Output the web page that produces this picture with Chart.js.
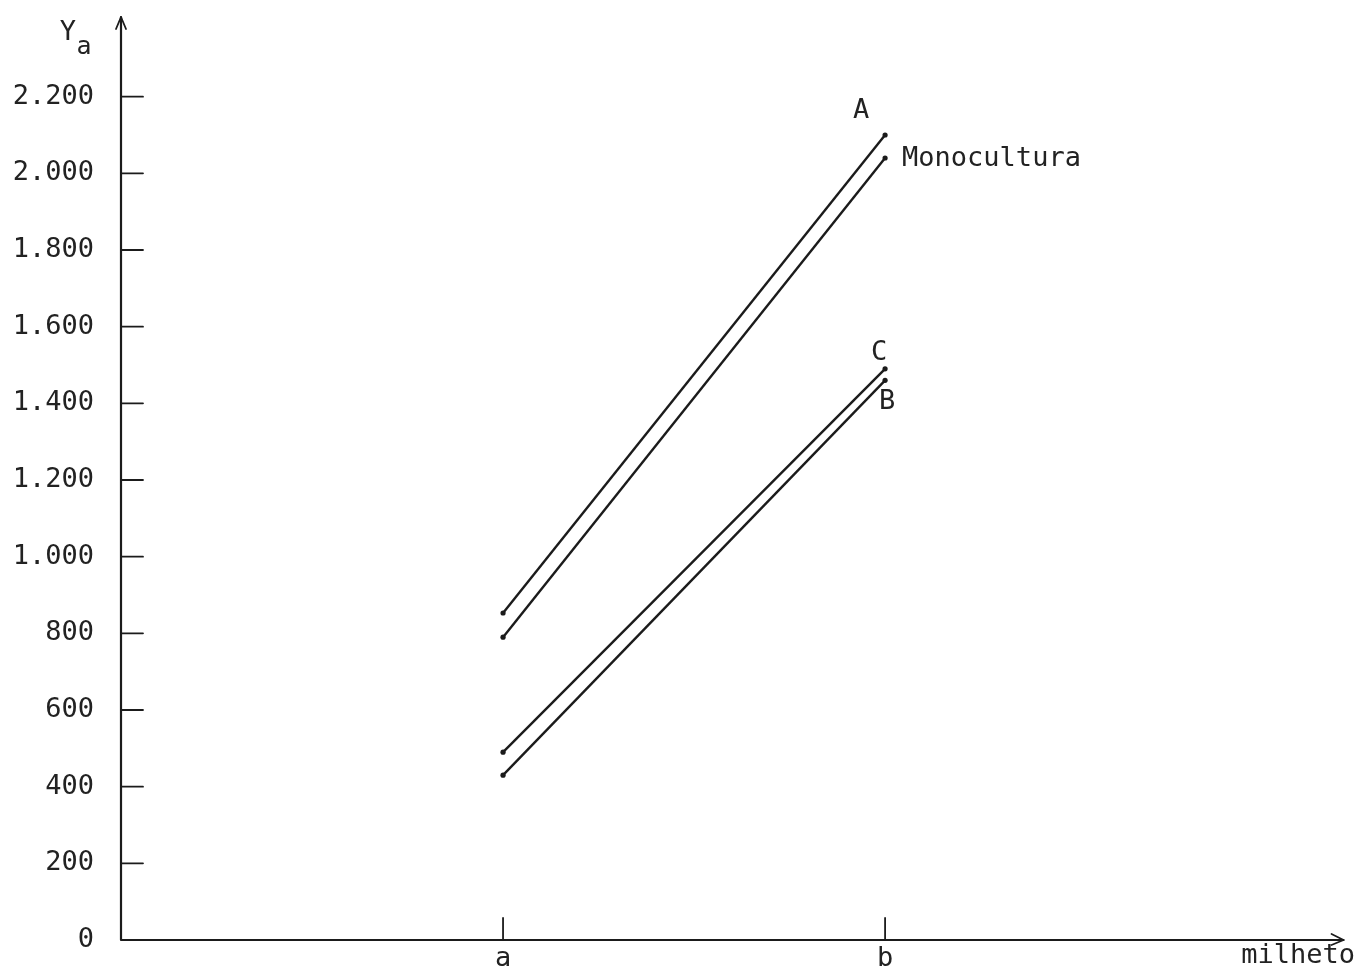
<!DOCTYPE html>
<html>
<head>
<meta charset="utf-8">
<title>Ya x milheto</title>
<script src="https://cdn.jsdelivr.net/npm/chart.js@4/dist/chart.umd.min.js"></script>
<style>
  html, body { margin: 0; padding: 0; background: #fff; }
  #wrap { width: 1360px; height: 969px; }
</style>
</head>
<body>
<div id="wrap"><canvas id="chart" width="1360" height="969"></canvas></div>
<script>
// x positions of the two milheto levels
const xPositions = [1, 2];
const xLabels = ['a', 'b'];
const xTitle = 'milheto';

// y axis ticks and how they are printed
const yTicks = [0, 200, 400, 600, 800, 1000, 1200, 1400, 1600, 1800, 2000, 2200];
const yTickLabels = ['0', '200', '400', '600', '800', '1.000', '1.200', '1.400', '1.600', '1.800', '2.000', '2.200'];

// series (value at a, value at b)
const seriesNames = ['A', 'Monocultura', 'C', 'B'];
const seriesA = [853, 2100];
const seriesMono = [790, 2040];
const seriesC = [490, 1490];
const seriesB = [430, 1460];

const INK = '#1b1b1b';
const FONT = '"DejaVu Sans Mono", "Liberation Mono", monospace';

// where each series name sits relative to its end point (b)
const labelOffsets = {
  'A': { dx: -24, dy: -24, align: 'center' },
  'Monocultura': { dx: 17, dy: 1, align: 'left' },
  'C': { dx: -6, dy: -16, align: 'center' },
  'B': { dx: 2, dy: 22, align: 'center' }
};

function toPoints(values) {
  return values.map((v, i) => ({ x: xPositions[i], y: v }));
}

// Draws the hand-made looking axes, arrows, inner tick marks and the text labels
const sketchAxes = {
  id: 'sketchAxes',
  afterDraw(chart) {
    const ctx = chart.ctx;
    const xs = chart.scales.x;
    const ys = chart.scales.y;
    const x0 = xs.getPixelForValue(0);
    const y0 = ys.getPixelForValue(0);
    const yTop = chart.chartArea.top - 3;
    const xEnd = xs.getPixelForValue(3.2);

    ctx.save();
    ctx.strokeStyle = INK;
    ctx.lineWidth = 2.2;
    ctx.lineCap = 'round';
    ctx.lineJoin = 'round';

    // axes
    ctx.beginPath();
    ctx.moveTo(x0, y0);
    ctx.lineTo(x0, yTop);
    ctx.moveTo(x0, y0);
    ctx.lineTo(xEnd, y0);
    ctx.stroke();

    // arrow heads
    ctx.lineWidth = 1.8;
    ctx.beginPath();
    ctx.moveTo(x0 - 5, yTop + 12);
    ctx.lineTo(x0, yTop);
    ctx.lineTo(x0 + 5, yTop + 12);
    ctx.moveTo(xEnd - 12, y0 - 6);
    ctx.lineTo(xEnd, y0);
    ctx.lineTo(xEnd - 12, y0 + 5);
    ctx.stroke();

    // tick marks pointing into the plot
    ctx.lineWidth = 1.8;
    ctx.beginPath();
    yTicks.forEach(v => {
      if (v === 0) return;
      const py = ys.getPixelForValue(v);
      ctx.moveTo(x0, py);
      ctx.lineTo(x0 + 22, py);
    });
    xPositions.forEach(v => {
      const px = xs.getPixelForValue(v);
      ctx.moveTo(px, y0);
      ctx.lineTo(px, y0 - 22);
    });
    ctx.stroke();

    // Y axis title with subscript
    ctx.fillStyle = '#222';
    ctx.textBaseline = 'middle';
    ctx.textAlign = 'center';
    ctx.font = '27px ' + FONT;
    ctx.fillText('Y', 68, 33);
    ctx.font = '25px ' + FONT;
    ctx.fillText('a', 84, 47);

    // series names at the b end of each line
    ctx.font = '27px ' + FONT;
    chart.data.datasets.forEach((ds, i) => {
      const meta = chart.getDatasetMeta(i);
      const pt = meta.data[meta.data.length - 1];
      const off = labelOffsets[ds.label];
      ctx.textAlign = off.align;
      ctx.fillText(ds.label, pt.x + off.dx, pt.y + off.dy);
    });
    ctx.restore();
  }
};

const seriesValues = [seriesA, seriesMono, seriesC, seriesB];

new Chart(document.getElementById('chart'), {
  type: 'line',
  data: {
    datasets: seriesNames.map((name, i) => ({
      label: name,
      data: toPoints(seriesValues[i]),
      borderColor: INK,
      backgroundColor: INK,
      borderWidth: 2.4,
      pointRadius: 2.6,
      pointBorderWidth: 0,
      pointBackgroundColor: INK,
      fill: false,
      tension: 0
    }))
  },
  options: {
    responsive: false,
    animation: false,
    devicePixelRatio: 1,
    layout: { padding: { top: 20, right: 5, left: 0, bottom: 0 } },
    plugins: {
      legend: { display: false },
      tooltip: { enabled: false }
    },
    scales: {
      x: {
        type: 'linear',
        min: 0,
        max: 3.23,
        grid: { display: false, drawTicks: false },
        border: { display: false },
        afterBuildTicks: s => { s.ticks = xPositions.map(v => ({ value: v })); },
        afterFit: s => {
          s.height = 29;
          s.paddingLeft = 0;
          s.paddingRight = 0;
        },
        ticks: {
          autoSkip: false,
          maxRotation: 0,
          padding: 3,
          color: '#222',
          font: { family: FONT, size: 27 },
          callback: (v, i) => xLabels[i]
        },
        title: {
          display: true,
          text: xTitle,
          align: 'end',
          color: '#222',
          font: { family: FONT, size: 27, lineHeight: 1 },
          padding: { top: 0, bottom: 0 }
        }
      },
      y: {
        type: 'linear',
        min: 0,
        max: 2400,
        grid: { display: false, drawTicks: false },
        border: { display: false },
        afterBuildTicks: s => { s.ticks = yTicks.map(v => ({ value: v })); },
        afterFit: s => {
          s.width = 121;
          s.paddingTop = 0;
          s.paddingBottom = 0;
        },
        ticks: {
          autoSkip: false,
          padding: 27,
          color: '#222',
          font: { family: FONT, size: 27 },
          callback: (v, i) => yTickLabels[i]
        }
      }
    }
  },
  plugins: [sketchAxes]
});
</script>
</body>
</html>
